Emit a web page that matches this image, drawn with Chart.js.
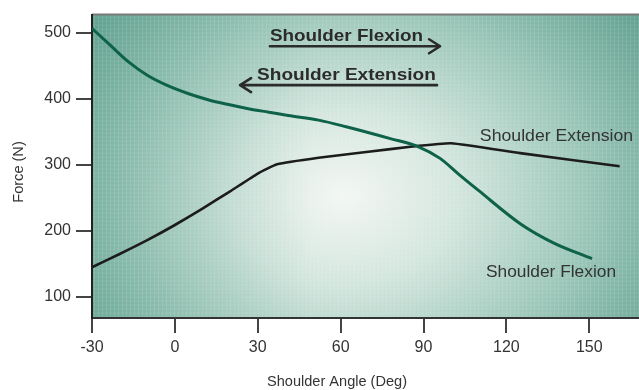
<!DOCTYPE html>
<html>
<head>
<meta charset="utf-8">
<script src="https://cdn.jsdelivr.net/npm/chart.js@4.4.1/dist/chart.umd.min.js"></script>
<style>
  html, body { margin: 0; padding: 0; background: #fff; }
  #wrap { width: 639px; height: 390px; position: relative; }
</style>
</head>
<body>
<div id="wrap"><canvas id="chart" width="639" height="390"></canvas></div>
<script>
// data (angle in deg, force in N)
const flexionAngle = [-30, -24, -17, -10, -3, 5, 12, 19, 27, 34, 41, 52, 62, 78, 88, 96, 103, 110, 125, 137, 151];
const flexionForce = [507, 484, 457, 436, 421, 408, 399, 392, 385, 380, 375, 368, 358, 340, 328, 310, 285, 261, 211, 182, 158];
const extensionAngle = [-30, -20, -10, 0, 10, 20, 30, 37, 52, 70, 86, 100, 125, 161];
const extensionForce = [145, 165, 186, 209, 234, 260, 287, 301, 311, 320, 328, 333, 318, 298];
const xTicks = [-30, 0, 30, 60, 90, 120, 150];
const yTicks = [100, 200, 300, 400, 500];
const curveLabels = ['Shoulder Extension', 'Shoulder Flexion'];
const arrowLabels = ['Shoulder Flexion', 'Shoulder Extension'];

const xRange = [-30, 168];
const yRange = [68, 528];

const toPoints = (xs, ys) => xs.map((x, i) => ({ x: x, y: ys[i] }));

// stretched text helper, the scanned figure is a bit wide
function wideText(ctx, txt, x, y, font, color, align, stretch) {
    ctx.save();
    ctx.font = font;
    ctx.fillStyle = color;
    ctx.textAlign = align || 'left';
    ctx.textBaseline = 'alphabetic';
    ctx.translate(x, y);
    ctx.scale(stretch || 1, 1);
    ctx.fillText(txt, 0, 0);
    ctx.restore();
}

// background of the plot area
const paperPlugin = {
    id: 'paper',
    beforeDraw(chart) {
        const { ctx, chartArea: a } = chart;
        ctx.save();
        ctx.beginPath();
        ctx.rect(a.left, a.top, a.right - a.left, a.bottom - a.top);
        ctx.clip();
        const cx = a.left + (a.right - a.left) * 0.46;
        const cy = a.top + (a.bottom - a.top) * 0.6;
        ctx.translate(cx, cy);
        ctx.scale(1.3, 1);
        const g = ctx.createRadialGradient(0, 0, 0, 0, 0, 290);
        g.addColorStop(0, '#f3f7f3');
        g.addColorStop(0.3, '#d3e6de');
        g.addColorStop(0.65, '#9ac6b8');
        g.addColorStop(1, '#62a190');
        ctx.fillStyle = g;
        ctx.fillRect(-400, -300, 800, 600);
        ctx.setTransform(1, 0, 0, 1, 0, 0);
        // left side of the print is darker
        const lg = ctx.createLinearGradient(a.left, 0, a.left + 220, 0);
        lg.addColorStop(0, 'rgba(60,140,118,0.30)');
        lg.addColorStop(1, 'rgba(60,140,118,0)');
        ctx.fillStyle = lg;
        ctx.fillRect(a.left, a.top, 220, a.bottom - a.top);
        // faint screen texture
        ctx.strokeStyle = 'rgba(255,255,255,0.10)';
        ctx.lineWidth = 1;
        ctx.beginPath();
        for (let px = a.left + 2; px < a.right; px += 4) {
            ctx.moveTo(px + 0.5, a.top);
            ctx.lineTo(px + 0.5, a.bottom);
        }
        for (let py = a.top + 2; py < a.bottom; py += 4) {
            ctx.moveTo(a.left, py + 0.5);
            ctx.lineTo(a.right, py + 0.5);
        }
        ctx.stroke();
        ctx.restore();

        // top edge of the frame
        ctx.save();
        ctx.strokeStyle = '#7a7a7a';
        ctx.lineWidth = 2;
        ctx.beginPath();
        ctx.moveTo(a.left, a.top);
        ctx.lineTo(a.right, a.top);
        ctx.stroke();
        ctx.restore();
    }
};

// labels, arrows and axis titles
const notesPlugin = {
    id: 'notes',
    afterDraw(chart) {
        const { ctx } = chart;
        const xs = chart.scales.x, ys = chart.scales.y;
        const fontN = '17px "Liberation Sans", Arial, sans-serif';
        const fontB = 'bold 17px "Liberation Sans", Arial, sans-serif';

        // curve labels placed in data space
        wideText(ctx, curveLabels[0], xs.getPixelForValue(110.4), ys.getPixelForValue(337), fontN, '#333', 'left', 1.04);
        wideText(ctx, curveLabels[1], xs.getPixelForValue(112.6), ys.getPixelForValue(130), fontN, '#333', 'left', 1.02);

        // direction arrows
        const ax0 = xs.getPixelForValue(34.4), ax1 = xs.getPixelForValue(96);
        const bx0 = xs.getPixelForValue(23.6), bx1 = xs.getPixelForValue(94.9);
        const ya = ys.getPixelForValue(480), yb = ys.getPixelForValue(421);
        wideText(ctx, arrowLabels[0], ax0, ya - 5, fontB, '#2b2b2b', 'left', 1.11);
        wideText(ctx, arrowLabels[1], bx0 + 17, yb - 5, fontB, '#2b2b2b', 'left', 1.12);
        ctx.save();
        ctx.strokeStyle = '#2b2b2b';
        ctx.lineWidth = 2.6;
        ctx.lineCap = 'round';
        ctx.lineJoin = 'round';
        ctx.beginPath();
        ctx.moveTo(ax0, ya);
        ctx.lineTo(ax1, ya);
        ctx.moveTo(ax1 - 11, ya - 7);
        ctx.lineTo(ax1, ya);
        ctx.lineTo(ax1 - 11, ya + 7);
        ctx.moveTo(bx1, yb);
        ctx.lineTo(bx0, yb);
        ctx.moveTo(bx0 + 11, yb - 7);
        ctx.lineTo(bx0, yb);
        ctx.lineTo(bx0 + 11, yb + 7);
        ctx.stroke();
        ctx.restore();

        // axis titles
        const fontT = '14px "Liberation Sans", Arial, sans-serif';
        wideText(ctx, 'Shoulder Angle (Deg)', 337, 386, fontT, '#333', 'center', 1.04);
        ctx.save();
        ctx.translate(23, 172);
        ctx.rotate(-Math.PI / 2);
        wideText(ctx, 'Force (N)', 0, 0, fontT, '#333', 'center', 1.04);
        ctx.restore();
    }
};

const ctx = document.getElementById('chart').getContext('2d');
const chart = new Chart(ctx, {
    type: 'line',
    data: {
        datasets: [{
            label: curveLabels[1],
            data: toPoints(flexionAngle, flexionForce),
            borderColor: '#0e6249',
            borderWidth: 3,
            pointRadius: 0,
            cubicInterpolationMode: 'monotone',
            fill: false
        }, {
            label: curveLabels[0],
            data: toPoints(extensionAngle, extensionForce),
            borderColor: '#1c1c1c',
            borderWidth: 2.6,
            pointRadius: 0,
            tension: 0.15,
            fill: false
        }]
    },
    options: {
        responsive: false,
        animation: false,
        layout: { padding: { top: 12, right: 0, left: 0, bottom: 0 } },
        plugins: {
            legend: { display: false },
            tooltip: { enabled: false }
        },
        scales: {
            x: {
                type: 'linear',
                min: xRange[0],
                max: xRange[1],
                afterBuildTicks: (s) => { s.ticks = xTicks.map(v => ({ value: v })); },
                afterFit: (s) => { s.height = 72; },
                ticks: {
                    color: '#333',
                    padding: 5,
                    maxRotation: 0,
                    font: { family: '"Liberation Sans", Arial, sans-serif', size: 16 }
                },
                grid: { drawOnChartArea: false, drawTicks: true, tickLength: 15, color: '#444', lineWidth: 2 },
                border: { display: true, color: '#333', width: 2 }
            },
            y: {
                min: yRange[0],
                max: yRange[1],
                afterBuildTicks: (s) => { s.ticks = yTicks.map(v => ({ value: v })); },
                afterFit: (s) => { s.width = 92; },
                ticks: {
                    color: '#333',
                    padding: 5,
                    font: { family: '"Liberation Sans", Arial, sans-serif', size: 16 }
                },
                grid: { drawOnChartArea: false, drawTicks: true, tickLength: 16, color: '#444', lineWidth: 2 },
                border: { display: true, color: '#222', width: 2 }
            }
        }
    },
    plugins: [paperPlugin, notesPlugin]
});
</script>
</body>
</html>
